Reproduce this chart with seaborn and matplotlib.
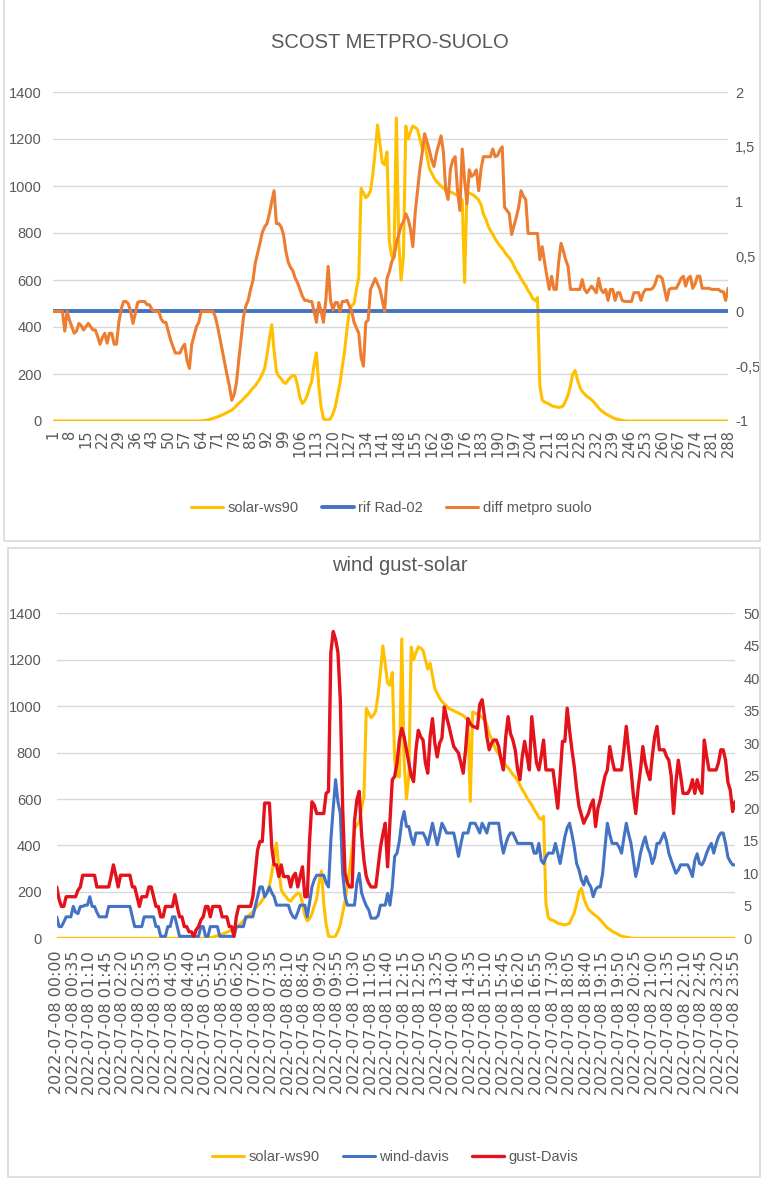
import matplotlib
matplotlib.use("Agg")
import matplotlib.pyplot as plt
from matplotlib.patches import Rectangle
from matplotlib.ticker import FuncFormatter, MultipleLocator
import seaborn as sns
import pandas as pd

# values, one per 5-minute step (288 steps)
solar_ws90 = [
    0, 0, 0, 0, 0, 0, 0, 0, 0, 0, 0, 0, 0, 0, 0, 0,
    0, 0, 0, 0, 0, 0, 0, 0, 0, 0, 0, 0, 0, 0, 0, 0,
    0, 0, 0, 0, 0, 0, 0, 0, 0, 0, 0, 0, 0, 0, 0, 0,
    0, 0, 0, 0, 0, 0, 0, 0, 0, 0, 0, 0, 0, 0, 0, 0,
    2, 3, 5, 8, 11, 14, 18, 22, 26, 31, 36, 41, 46, 55, 65, 76,
    84, 95, 105, 115, 128, 140, 150, 165, 180, 200, 225, 280, 350, 410, 300, 210,
    190, 180, 165, 160, 175, 185, 195, 190, 150, 100, 75, 85, 105, 140, 170, 240,
    290, 150, 60, 10, 5, 5, 10, 30, 60, 110, 160, 230, 300, 390, 470, 490,
    500, 560, 610, 990, 970, 950, 960, 980, 1050, 1150, 1260, 1180, 1100, 1090, 1145, 765,
    700, 695, 1290, 765, 600, 700, 1255, 1200, 1230, 1255, 1250, 1240, 1200, 1160, 1185, 1130,
    1075, 1055, 1035, 1020, 1010, 1000, 990, 985, 980, 975, 970, 965, 960, 950, 940, 590,
    975, 970, 965, 960, 950, 940, 920, 880, 860, 830, 810, 795, 775, 760, 745, 735,
    720, 705, 695, 680, 660, 640, 625, 605, 590, 575, 555, 540, 520, 512, 525, 150,
    90, 80, 77, 72, 65, 62, 60, 58, 60, 65, 88, 110, 150, 200, 215, 175,
    145, 125, 115, 105, 98, 90, 80, 68, 55, 45, 38, 31, 25, 20, 14, 10,
    7, 5, 3, 1, 0, 0, 0, 0, 0, 0, 0, 0, 0, 0, 0, 0,
    0, 0, 0, 0, 0, 0, 0, 0, 0, 0, 0, 0, 0, 0, 0, 0,
    0, 0, 0, 0, 0, 0, 0, 0, 0, 0, 0, 0, 0, 0, 0, 0,
]

# reference line: flat at zero for the whole day
rif_rad02 = [0.0] * 288

diff_metpro_suolo = [
    0, 0, 0, 0, 0, -0.18, 0, -0.08, -0.14, -0.2, -0.18, -0.11, -0.13, -0.17, -0.14, -0.11,
    -0.14, -0.17, -0.17, -0.23, -0.3, -0.24, -0.2, -0.29, -0.2, -0.2, -0.3, -0.3, -0.1, 0.02, 0.09, 0.09,
    0.07, 0, -0.11, -0.02, 0.08, 0.09, 0.09, 0.09, 0.06, 0.06, 0.02, 0, 0, 0, -0.07, -0.1,
    -0.1, -0.18, -0.26, -0.32, -0.38, -0.38, -0.38, -0.33, -0.3, -0.45, -0.52, -0.3, -0.22, -0.14, -0.1, 0,
    0, 0, 0, 0, 0, -0.05, -0.14, -0.25, -0.36, -0.47, -0.58, -0.68, -0.81, -0.76, -0.65, -0.44,
    -0.25, -0.05, 0.05, 0.1, 0.2, 0.28, 0.44, 0.53, 0.62, 0.72, 0.77, 0.8, 0.89, 1.0, 1.1, 0.8,
    0.8, 0.77, 0.7, 0.55, 0.45, 0.4, 0.37, 0.3, 0.26, 0.2, 0.14, 0.1, 0.1, 0.09, 0.09, 0,
    -0.1, 0.08, 0, -0.1, 0.1, 0.41, 0.1, 0.01, 0.08, 0.08, 0, 0.09, 0.09, 0.1, 0.05, 0,
    -0.1, -0.15, -0.2, -0.42, -0.5, -0.1, -0.08, 0.2, 0.25, 0.3, 0.25, 0.2, 0.1, 0, 0.3, 0.36,
    0.45, 0.5, 0.62, 0.7, 0.78, 0.82, 0.89, 0.84, 0.75, 0.59, 0.9, 1.1, 1.3, 1.45, 1.62, 1.55,
    1.47, 1.38, 1.32, 1.44, 1.52, 1.6, 1.45, 1.1, 1.02, 1.3, 1.38, 1.41, 1.1, 0.92, 1.48, 1.2,
    0.98, 1.29, 1.23, 1.25, 1.29, 1.1, 1.3, 1.41, 1.41, 1.41, 1.41, 1.48, 1.41, 1.42, 1.47, 1.5,
    0.95, 0.92, 0.89, 0.7, 0.78, 0.86, 0.95, 1.1, 1.05, 1.02, 0.71, 0.71, 0.71, 0.71, 0.71, 0.47,
    0.59, 0.45, 0.32, 0.2, 0.32, 0.2, 0.2, 0.45, 0.62, 0.55, 0.47, 0.41, 0.2, 0.2, 0.2, 0.2,
    0.2, 0.29, 0.2, 0.17, 0.2, 0.23, 0.2, 0.17, 0.3, 0.2, 0.17, 0.2, 0.1, 0.2, 0.2, 0.1,
    0.17, 0.17, 0.1, 0.09, 0.09, 0.09, 0.09, 0.17, 0.17, 0.17, 0.1, 0.17, 0.2, 0.2, 0.2, 0.21,
    0.25, 0.32, 0.32, 0.3, 0.2, 0.1, 0.2, 0.21, 0.21, 0.21, 0.25, 0.3, 0.32, 0.23, 0.3, 0.32,
    0.21, 0.25, 0.32, 0.32, 0.21, 0.21, 0.21, 0.21, 0.2, 0.2, 0.2, 0.2, 0.18, 0.18, 0.1, 0.21,
]

wind_davis = [
    3.3, 1.8, 1.8, 2.5, 3.3, 3.3, 3.3, 4.9, 4.0, 3.8, 4.9, 4.9, 5.1, 5.1, 6.4, 4.9,
    4.9, 4.0, 3.3, 3.3, 3.3, 3.3, 4.9, 4.9, 4.9, 4.9, 4.9, 4.9, 4.9, 4.9, 4.9, 4.9,
    3.3, 1.8, 1.8, 1.8, 1.8, 3.3, 3.3, 3.3, 3.3, 3.3, 1.8, 1.8, 0.3, 0.3, 0.3, 1.8,
    1.8, 3.3, 3.3, 1.8, 0.3, 0.3, 0.3, 0.3, 0.3, 0.3, 0.3, 0.3, 0.3, 1.8, 1.8, 0.3,
    0.3, 1.8, 1.8, 1.8, 1.8, 0.3, 0.3, 0.3, 0.3, 0.3, 0.3, 0.3, 1.8, 1.8, 1.8, 1.8,
    3.3, 3.3, 3.3, 3.3, 4.9, 6.4, 7.9, 7.9, 6.4, 7.0, 7.9, 7.0, 6.4, 5.1, 5.1, 5.1,
    5.1, 5.1, 5.1, 4.0, 3.3, 3.1, 4.0, 5.1, 5.1, 5.1, 3.3, 5.5, 7.9, 9.0, 9.7, 9.7,
    9.7, 9.7, 8.5, 7.9, 15.1, 20, 24.4, 21, 19.2, 10, 6.5, 5.1, 5.1, 5.1, 5.1, 8.5,
    10, 7.0, 5.9, 5.0, 4.4, 3.1, 3.1, 3.1, 3.5, 5.1, 5.1, 5.1, 6.9, 5.1, 8.0, 12.6,
    13.1, 15, 18, 19.5, 17.2, 17.2, 15.5, 14.4, 16.2, 16.2, 16.2, 16.2, 15.5, 14.4, 16, 17.7,
    16, 14.4, 16, 17.7, 17, 16.2, 16.2, 16.2, 16.2, 14.5, 12.6, 14.5, 16.2, 16.2, 16.2, 17.7,
    17.7, 17.7, 17, 16.2, 17.7, 17, 16.2, 17.7, 17.7, 17.7, 17.7, 17.7, 15, 13.1, 14.5, 15.6,
    16.2, 16.2, 15.4, 14.6, 14.6, 14.6, 14.6, 14.6, 14.6, 14.6, 13.1, 13.1, 14.6, 12, 11.5, 12.5,
    13.1, 13.1, 13.1, 14.6, 13.1, 11.5, 13.5, 15.6, 17, 17.7, 16, 14, 11.5, 10.5, 9.0, 8.2,
    9.5, 8.5, 7.9, 6.4, 7.5, 7.9, 7.9, 10, 14, 17.7, 16, 14.6, 14.6, 14.6, 14, 13.1,
    15.5, 17.7, 16, 14.6, 12, 9.5, 11, 13.1, 14.5, 15.6, 14, 13.1, 11.5, 12.5, 14.6, 14.6,
    15.4, 16.2, 15, 13.1, 12, 11, 10, 10.5, 11.3, 11.3, 11.3, 11.3, 10.5, 9.5, 12, 13,
    11.5, 11.3, 12, 13.1, 14, 14.6, 13.1, 14.5, 15.6, 16.2, 16.2, 14.6, 12.5, 11.8, 11.3, 11.3,
]

gust_davis = [
    7.9, 6.0, 4.9, 4.9, 6.4, 6.4, 6.4, 6.4, 6.4, 7.4, 7.9, 9.7, 9.7, 9.7, 9.7, 9.7,
    9.7, 7.9, 7.9, 7.9, 7.9, 7.9, 7.9, 9.5, 11.3, 9.7, 7.9, 9.7, 9.7, 9.7, 9.7, 9.7,
    7.9, 7.9, 6.4, 4.9, 6.4, 6.4, 6.4, 7.9, 7.9, 6.4, 4.9, 4.9, 3.3, 3.3, 4.9, 4.9,
    4.9, 4.9, 6.7, 4.9, 3.3, 3.3, 1.8, 1.8, 1.0, 1.0, 0.3, 1.3, 1.8, 2.8, 3.3, 4.9,
    4.9, 3.3, 4.9, 4.9, 4.9, 4.9, 3.3, 3.3, 3.3, 1.8, 1.8, 0.3, 3.3, 4.9, 4.9, 4.9,
    4.9, 4.9, 4.9, 6.4, 10, 13.6, 14.9, 14.9, 20.8, 20.8, 20.8, 14, 11.3, 11.3, 9.5, 11.3,
    9.5, 9.5, 9.5, 7.9, 9.5, 10, 7.9, 9.5, 11, 6.4, 6.4, 15.1, 21, 20.5, 19.2, 19.2,
    19.2, 19.2, 22.3, 22.6, 44, 47.2, 46, 44, 36.7, 20, 10, 8.5, 7.9, 7.9, 18, 21.3,
    22.6, 16, 12, 9.5, 8.5, 7.9, 7.9, 7.9, 11, 14, 16, 17.7, 11, 18, 24.4, 24.9,
    27, 30.5, 32.3, 31, 29, 27, 25, 24.1, 29, 32, 31, 30.5, 27, 25.4, 31, 33.8,
    30, 27.9, 30, 30.8, 35.6, 34, 32.6, 31, 29.5, 29, 28.5, 27, 25.4, 29, 33.8, 33,
    32.6, 32.5, 32.3, 36, 36.7, 34.1, 31, 29, 30, 30.5, 30.5, 29.5, 27.5, 25.9, 31, 34.1,
    31.5, 30.5, 29, 26, 24.4, 28, 30.3, 28, 25.9, 34.1, 30.5, 27, 25.9, 28, 30.5, 25.9,
    25.9, 25.9, 25.9, 23, 20, 25, 30.3, 30.3, 35.4, 32, 29, 26.4, 23, 20.3, 19, 17.7,
    18.5, 19.2, 20.5, 21.3, 17.2, 20, 21.3, 23.3, 25, 25.9, 29.5, 27.5, 25.9, 25.9, 25.9, 25.9,
    29, 32.6, 29, 25.9, 22, 19.2, 23, 25.9, 29.5, 27, 25.5, 24.4, 28, 31, 32.6, 29,
    29, 29, 28, 27.4, 25, 19.2, 24, 27.4, 25, 22.3, 22.3, 22.3, 23, 24.4, 22.3, 24.4,
    23, 22.3, 30.5, 28, 25.9, 25.9, 25.9, 25.9, 27, 29, 29, 27.4, 24, 22.8, 19.5, 21,
]

n = len(solar_ws90)
assert all(len(s) == n for s in (rif_rad02, diff_metpro_suolo, wind_davis, gust_davis))

steps = list(range(n))
step_labels = [str(i + 1) for i in steps]
time_labels = list(pd.date_range("2022-07-08 00:00", periods=n, freq="5min").strftime("%Y-%m-%d %H:%M"))

df = pd.DataFrame({
    "step": steps,
    "solar": solar_ws90,
    "rif": rif_rad02,
    "diff": diff_metpro_suolo,
    "wind": wind_davis,
    "gust": gust_davis,
})

sns.set_style("white")
plt.rcParams["font.family"] = ["Liberation Sans", "DejaVu Sans"]

GOLD = "#FFC000"
BLUE = "#4472C4"
ORANGE = "#ED7D31"
RED = "#E3121B"
TXT = "#595959"
GRID = "#D9D9D9"

W, H = 764, 1180
fig = plt.figure(figsize=(W / 100, H / 100), dpi=100)

# panel borders like the Excel chart frames
fig.add_artist(Rectangle((4 / W, 1 - 541 / H), 756 / W, 545 / H, transform=fig.transFigure,
                         fill=False, ec=GRID, lw=1.2))
fig.add_artist(Rectangle((8 / W, 1 - 1177 / H), 752 / W, 629 / H, transform=fig.transFigure,
                         fill=False, ec=GRID, lw=1.2))


def style_axes(ax, axr, ticks, labels, label_size, xpad, lpad, rpad):
    for a in (ax, axr):
        for s in a.spines.values():
            s.set_visible(False)
        a.set_xlabel("")
        a.set_ylabel("")
        a.tick_params(length=0, colors=TXT)
    ax.set_xlim(0, n - 1)
    ax.grid(axis="y", color=GRID, lw=1.0)
    ax.grid(axis="x", visible=False)
    ax.set_axisbelow(True)
    ax.set_xticks(ticks)
    ax.set_xticklabels(labels, rotation=90, fontsize=label_size, color=TXT, family="DejaVu Sans")
    ax.tick_params(axis="x", pad=xpad)
    ax.tick_params(axis="y", labelsize=10.5, pad=lpad)
    axr.tick_params(axis="y", labelsize=10.5, pad=rpad)


# ---------- top chart ----------
ax1 = fig.add_axes([53 / W, 1 - 421 / H, 675 / W, 329 / H])
ax1r = ax1.twinx()
sns.lineplot(data=df, x="step", y="solar", ax=ax1, color=GOLD, linewidth=2.2, label="solar-ws90", legend=False)
sns.lineplot(data=df, x="step", y="rif", ax=ax1r, color=BLUE, linewidth=2.8, label="rif Rad-02", legend=False)
sns.lineplot(data=df, x="step", y="diff", ax=ax1r, color=ORANGE, linewidth=2.2, label="diff metpro suolo", legend=False)
ax1.set_ylim(0, 1400)
ax1.yaxis.set_major_locator(MultipleLocator(200))
ax1r.set_ylim(-1, 2)
ax1r.yaxis.set_major_locator(MultipleLocator(0.5))
ax1r.yaxis.set_major_formatter(FuncFormatter(lambda v, p: f"{v:g}".replace(".", ",")))
style_axes(ax1, ax1r, steps[::7], step_labels[::7], 10.5, 6, 8, 5)

fig.text(390 / W, 1 - 42 / H, "SCOST METPRO-SUOLO", ha="center", va="center", fontsize=14.5, color=TXT)
h1 = ax1.get_lines()[:1] + ax1r.get_lines()[:2]
fig.legend(h1, ["solar-ws90", "rif Rad-02", "diff metpro suolo"], loc="center",
           bbox_to_anchor=(391 / W, 1 - 508 / H), ncol=3, frameon=False, fontsize=10.5,
           labelcolor=TXT, handlelength=2.2, handletextpad=0.3, columnspacing=1.6)

# ---------- bottom chart ----------
ax2 = fig.add_axes([56.7 / W, 1 - 938.3 / H, 678.3 / W, 325 / H])
ax2r = ax2.twinx()
sns.lineplot(data=df, x="step", y="solar", ax=ax2, color=GOLD, linewidth=2.2, label="solar-ws90", legend=False)
sns.lineplot(data=df, x="step", y="wind", ax=ax2r, color=BLUE, linewidth=2.2, label="wind-davis", legend=False)
sns.lineplot(data=df, x="step", y="gust", ax=ax2r, color=RED, linewidth=2.4, label="gust-Davis", legend=False)
ax2.set_ylim(0, 1400)
ax2.yaxis.set_major_locator(MultipleLocator(200))
ax2r.set_ylim(0, 50)
ax2r.yaxis.set_major_locator(MultipleLocator(5))
style_axes(ax2, ax2r, steps[::7], time_labels[::7], 11.5, 9, 11, 6)

fig.text(400 / W, 1 - 565 / H, "wind gust-solar", ha="center", va="center", fontsize=14.5, color=TXT)
h2 = ax2.get_lines()[:1] + ax2r.get_lines()[:2]
fig.legend(h2, ["solar-ws90", "wind-davis", "gust-Davis"], loc="center",
           bbox_to_anchor=(395 / W, 1 - 1157 / H), ncol=3, frameon=False, fontsize=10.5,
           labelcolor=TXT, handlelength=2.2, handletextpad=0.3, columnspacing=1.6)

fig.savefig("out.png", dpi=100, facecolor="white")
